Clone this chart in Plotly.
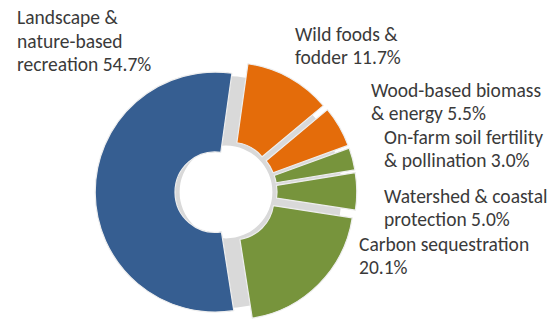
import plotly.graph_objects as go

# ---- data ----
categories = [
    "Wild foods & fodder",
    "Wood-based biomass & energy",
    "On-farm soil fertility & pollination",
    "Watershed & coastal protection",
    "Carbon sequestration",
    "Landscape & nature-based recreation",
]
values = [11.7, 5.5, 3.0, 5.0, 20.1, 54.7]
label_lines = [
    ["Wild foods &", "fodder"],
    ["Wood-based biomass", "& energy"],
    ["On-farm soil fertility", "& pollination"],
    ["Watershed & coastal", "protection"],
    ["Carbon sequestration", ""],
    ["Landscape &", "nature-based", "recreation"],
]
colors = ["#E46C0A", "#E46C0A", "#77943C", "#77943C", "#77943C", "#365E91"]

W, H = 559, 327
cx, cy = 226, 192          # pie centre in pixels (from top-left)
r = 120                    # slice radius in pixels
pull = 0.09
rmax = r * (1 + pull)

def dom(rad):
    return dict(x=[(cx - rad) / W, (cx + rad) / W],
                y=[(H - cy - rad) / H, (H - cy + rad) / H])

fig = go.Figure()

# soft grey backdrop (shadow showing through the gaps)
fig.add_trace(go.Pie(
    values=[1], labels=["bg"], domain=dom(116), hole=0.4,
    marker=dict(colors=["#d9d9d9"], line=dict(width=0)),
    textinfo="none", hoverinfo="skip", sort=False, showlegend=False,
))

fig.add_trace(go.Pie(
    labels=categories, values=values, domain=dom(rmax), hole=0.335,
    sort=False, direction="clockwise", rotation=8,
    pull=[pull] * len(values),
    marker=dict(colors=colors, line=dict(color="#eeeeee", width=1.2)),
    textinfo="none", showlegend=False,
))

# label layout: left x px, first line centre y px, line pitch px
label_pos = [(294, 34), (370, 90), (383, 136.7), (383, 195.7), (358, 244), (16, 17.3)]
pitch = 23.3

for lines, v, (lx, ly) in zip(label_lines, values, label_pos):
    lines = list(lines)
    lines[-1] = (lines[-1] + " " if lines[-1] else "") + f"{v:.1f}%"
    for i, ln in enumerate(lines):
        fig.add_annotation(
            x=lx / W, y=1 - (ly + i * pitch) / H, xref="paper", yref="paper",
            xanchor="left", yanchor="middle", align="left",
            text=ln, showarrow=False, borderpad=0,
            font=dict(family="Carlito, Calibri, Lato, sans-serif", size=19.5, color="#3a3a3a"),
        )

fig.update_layout(
    width=W, height=H, margin=dict(l=0, r=0, t=0, b=0),
    paper_bgcolor="white", plot_bgcolor="white",
)

fig.write_html("out.html")
